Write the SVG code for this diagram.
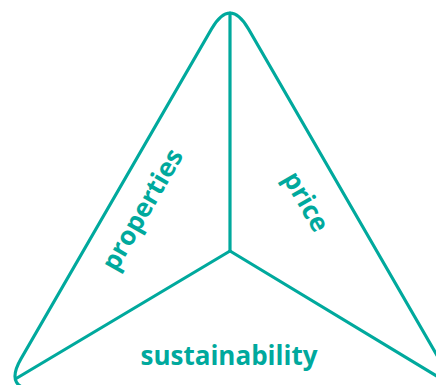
<svg xmlns="http://www.w3.org/2000/svg" width="436" height="385" viewBox="0 0 436 385">
  <style>
    .edge { fill: none; stroke: #00A99D; stroke-width: 3.2; stroke-linejoin: round; stroke-linecap: round; }
    .label { fill: #00A99D; font-family: "Open Sans", "Liberation Sans", sans-serif; font-weight: 700; font-size: 26px; text-anchor: middle; }
  </style>
  <rect width="436" height="385" fill="#ffffff"/>
  <g id="connectors">
    <path class="edge" d="M 211.5 29 Q 230 -3 248.5 29 L 439 358.8 Q 457 390 421 390 L 39 390 Q 3 390 21 358.8 Z"/>
    <line class="edge" x1="230" y1="251" x2="230" y2="13"/>
    <line class="edge" x1="230" y1="251" x2="17" y2="378"/>
    <line class="edge" x1="230" y1="251" x2="445" y2="381"/>
  </g>
  <g id="properties">
    <text class="label" transform="translate(150,214) rotate(-60)">properties</text>
  </g>
  <g id="price">
    <text class="label" transform="translate(298.5,206) rotate(60)">price</text>
  </g>
  <g id="sustainability">
    <text class="label" x="229" y="365">sustainability</text>
  </g>
</svg>
